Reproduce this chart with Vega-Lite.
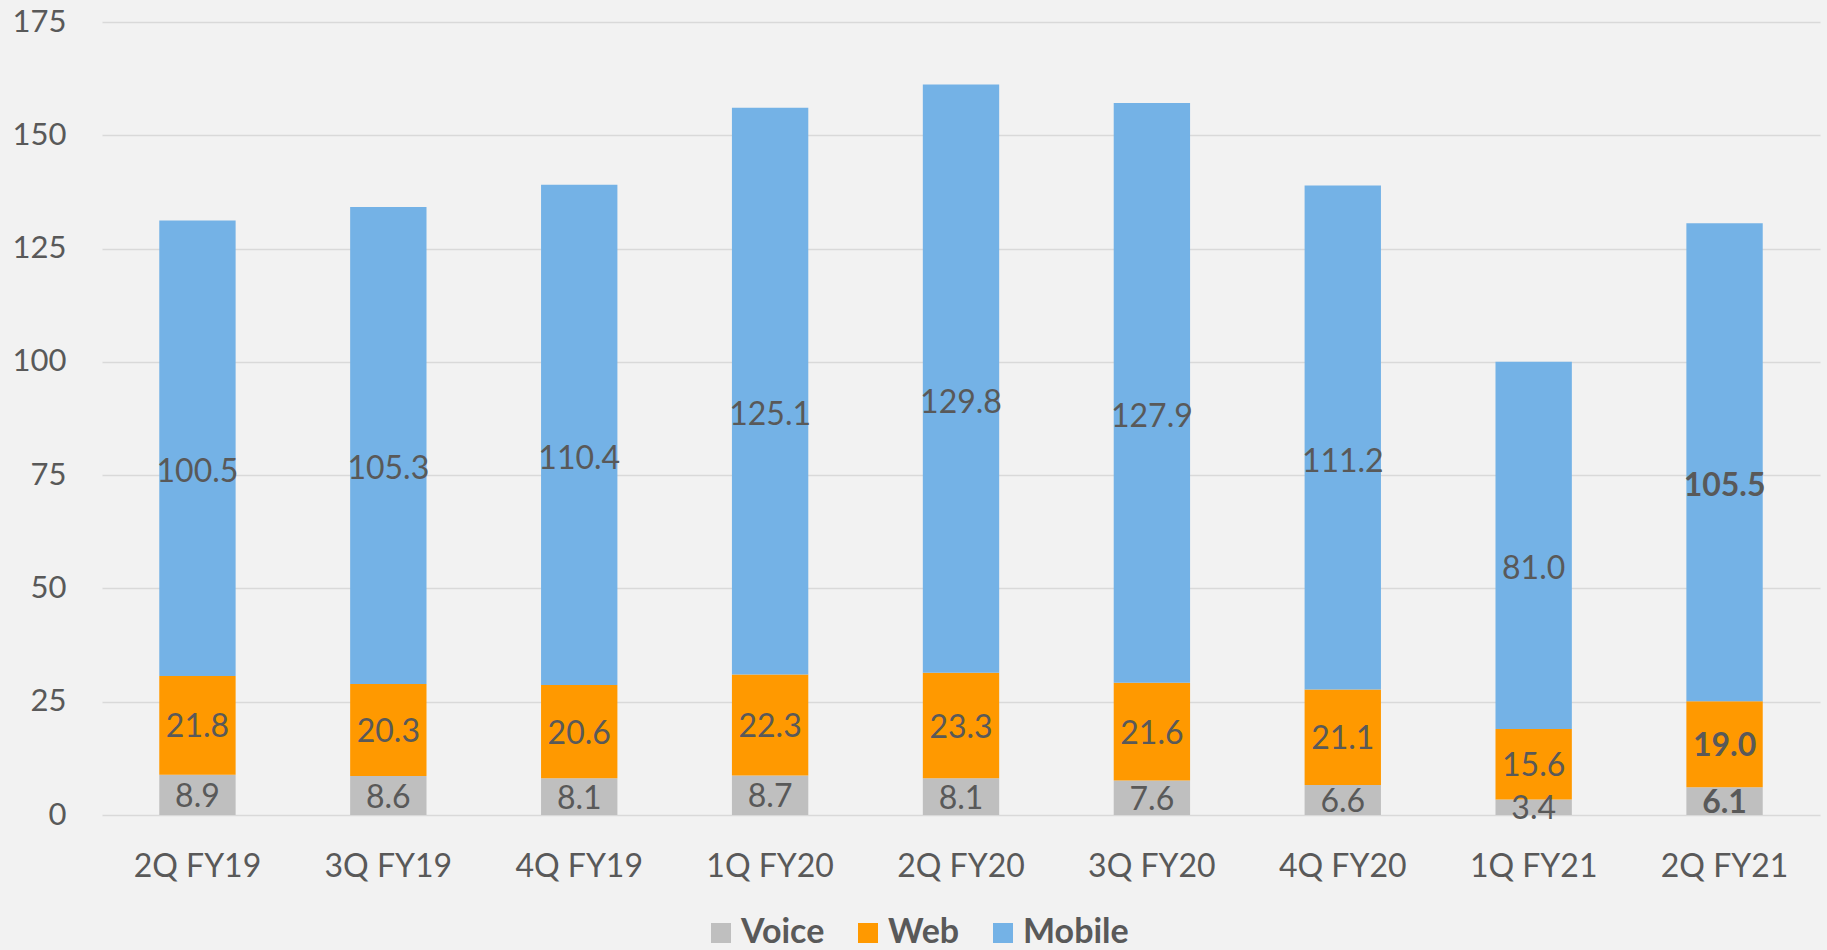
{
  "$schema": "https://vega.github.io/schema/vega-lite/v6.json",
  "width": 1718,
  "height": 793,
  "autosize": "none",
  "padding": {"left": 102, "top": 22, "right": 7, "bottom": 135},
  "background": "#f2f2f2",
  "config": {"view": {"stroke": null}, "font": "Lato"},
  "data": {
    "values": [
      {"quarter": "2Q FY19", "series": "Voice", "rank": 1, "value": 8.9},
      {"quarter": "2Q FY19", "series": "Web", "rank": 2, "value": 21.8},
      {"quarter": "2Q FY19", "series": "Mobile", "rank": 3, "value": 100.5},
      {"quarter": "3Q FY19", "series": "Voice", "rank": 1, "value": 8.6},
      {"quarter": "3Q FY19", "series": "Web", "rank": 2, "value": 20.3},
      {"quarter": "3Q FY19", "series": "Mobile", "rank": 3, "value": 105.3},
      {"quarter": "4Q FY19", "series": "Voice", "rank": 1, "value": 8.1},
      {"quarter": "4Q FY19", "series": "Web", "rank": 2, "value": 20.6},
      {"quarter": "4Q FY19", "series": "Mobile", "rank": 3, "value": 110.4},
      {"quarter": "1Q FY20", "series": "Voice", "rank": 1, "value": 8.7},
      {"quarter": "1Q FY20", "series": "Web", "rank": 2, "value": 22.3},
      {"quarter": "1Q FY20", "series": "Mobile", "rank": 3, "value": 125.1},
      {"quarter": "2Q FY20", "series": "Voice", "rank": 1, "value": 8.1},
      {"quarter": "2Q FY20", "series": "Web", "rank": 2, "value": 23.3},
      {"quarter": "2Q FY20", "series": "Mobile", "rank": 3, "value": 129.8},
      {"quarter": "3Q FY20", "series": "Voice", "rank": 1, "value": 7.6},
      {"quarter": "3Q FY20", "series": "Web", "rank": 2, "value": 21.6},
      {"quarter": "3Q FY20", "series": "Mobile", "rank": 3, "value": 127.9},
      {"quarter": "4Q FY20", "series": "Voice", "rank": 1, "value": 6.6},
      {"quarter": "4Q FY20", "series": "Web", "rank": 2, "value": 21.1},
      {"quarter": "4Q FY20", "series": "Mobile", "rank": 3, "value": 111.2},
      {"quarter": "1Q FY21", "series": "Voice", "rank": 1, "value": 3.4},
      {"quarter": "1Q FY21", "series": "Web", "rank": 2, "value": 15.6},
      {"quarter": "1Q FY21", "series": "Mobile", "rank": 3, "value": 81.0},
      {"quarter": "2Q FY21", "series": "Voice", "rank": 1, "value": 6.1},
      {"quarter": "2Q FY21", "series": "Web", "rank": 2, "value": 19.0},
      {"quarter": "2Q FY21", "series": "Mobile", "rank": 3, "value": 105.5}
    ]
  },
  "transform": [
    {"stack": "value", "groupby": ["quarter"], "sort": [{"field": "rank", "order": "ascending"}], "as": ["v0", "v1"]}
  ],
  "encoding": {
    "x": {
      "field": "quarter",
      "type": "nominal",
      "sort": ["2Q FY19", "3Q FY19", "4Q FY19", "1Q FY20", "2Q FY20", "3Q FY20", "4Q FY20", "1Q FY21", "2Q FY21"],
      "scale": {"paddingInner": 0.6, "paddingOuter": 0.3},
      "axis": {
        "title": null,
        "labelAngle": 0,
        "labelFont": "Lato",
        "labelFontSize": 32,
        "labelColor": "#595959",
        "labelPadding": 36,
        "ticks": false,
        "domain": false,
        "grid": false
      }
    }
  },
  "layer": [
    {
      "mark": {"type": "bar"},
      "encoding": {
        "y": {
          "field": "v1",
          "type": "quantitative",
          "scale": {"domain": [0, 175], "nice": false, "zero": true},
          "axis": {
            "title": null,
            "values": [0, 25, 50, 75, 100, 125, 150, 175],
            "labelFont": "Lato",
            "labelFontSize": 31,
            "labelColor": "#595959",
            "labelPadding": 36,
            "ticks": false,
            "domain": false,
            "grid": true,
            "gridColor": "#d9d9d9",
            "gridWidth": 1.5
          }
        },
        "y2": {"field": "v0"},
        "color": {
          "field": "series",
          "type": "nominal",
          "scale": {"domain": ["Voice", "Web", "Mobile"], "range": ["#bfbfbf", "#ff9900", "#74b2e6"]},
          "legend": {
            "orient": "none",
            "legendX": 602,
            "legendY": 894,
            "direction": "horizontal",
            "title": null,
            "symbolType": "square",
            "symbolSize": 400,
            "symbolStrokeWidth": 0,
            "symbolOpacity": 1,
            "labelFont": "Lato",
            "labelFontSize": 34,
            "labelFontWeight": "bold",
            "labelColor": "#595959",
            "labelOffset": 3,
            "columnPadding": 26,
            "padding": 0
          }
        }
      }
    },
    {
      "transform": [
        {"fold": ["v0", "v1"], "as": ["edge", "pos"]},
        {"aggregate": [{"op": "mean", "field": "pos", "as": "mid"}], "groupby": ["quarter", "series", "value"]},
        {"filter": "datum.series !== 'Mobile' && datum.quarter !== '2Q FY21'"}
      ],
      "mark": {"type": "text", "font": "Lato", "fontSize": 32, "color": "#595959", "dy": 2},
      "encoding": {
        "y": {"field": "mid", "type": "quantitative"},
        "text": {"field": "value", "type": "quantitative", "format": ".1f"}
      }
    },
    {
      "transform": [
        {"fold": ["v0", "v1"], "as": ["edge", "pos"]},
        {"aggregate": [{"op": "mean", "field": "pos", "as": "mid"}], "groupby": ["quarter", "series", "value"]},
        {"filter": "datum.series === 'Mobile' && datum.quarter !== '2Q FY21'"}
      ],
      "mark": {"type": "text", "font": "Lato", "fontSize": 32, "color": "#595959", "dy": 24},
      "encoding": {
        "y": {"field": "mid", "type": "quantitative"},
        "text": {"field": "value", "type": "quantitative", "format": ".1f"}
      }
    },
    {
      "transform": [
        {"fold": ["v0", "v1"], "as": ["edge", "pos"]},
        {"aggregate": [{"op": "mean", "field": "pos", "as": "mid"}], "groupby": ["quarter", "series", "value"]},
        {"filter": "datum.series !== 'Mobile' && datum.quarter === '2Q FY21'"}
      ],
      "mark": {"type": "text", "font": "Lato", "fontSize": 32, "fontWeight": "bold", "color": "#595959", "dy": 2},
      "encoding": {
        "y": {"field": "mid", "type": "quantitative"},
        "text": {"field": "value", "type": "quantitative", "format": ".1f"}
      }
    },
    {
      "transform": [
        {"fold": ["v0", "v1"], "as": ["edge", "pos"]},
        {"aggregate": [{"op": "mean", "field": "pos", "as": "mid"}], "groupby": ["quarter", "series", "value"]},
        {"filter": "datum.series === 'Mobile' && datum.quarter === '2Q FY21'"}
      ],
      "mark": {"type": "text", "font": "Lato", "fontSize": 32, "fontWeight": "bold", "color": "#595959", "dy": 24},
      "encoding": {
        "y": {"field": "mid", "type": "quantitative"},
        "text": {"field": "value", "type": "quantitative", "format": ".1f"}
      }
    }
  ]
}
